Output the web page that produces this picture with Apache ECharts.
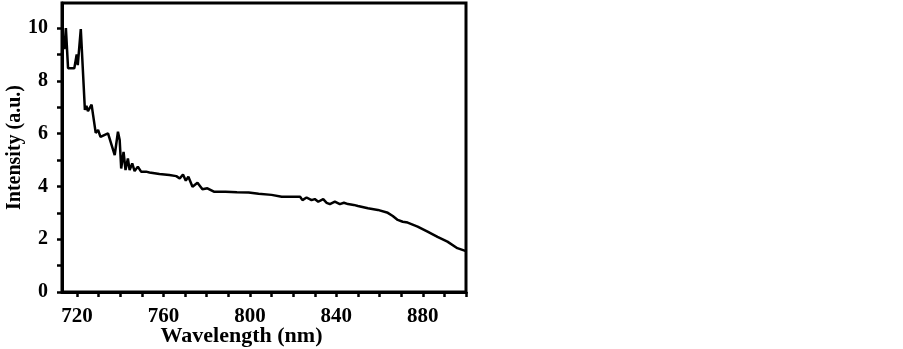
<!DOCTYPE html>
<html>
<head>
<meta charset="utf-8">
<script src="https://cdn.jsdelivr.net/npm/echarts@6/dist/echarts.min.js"></script>
<style>
    html, body { margin: 0; padding: 0; background: #fff; }
    #chart { width: 903px; height: 349px; }
</style>
</head>
<body>
<div id="chart"></div>
<script>
// spectrum
const wavelength = [
    713, 713.6, 714.1, 714.8, 715.8, 718.7, 719.8, 720.3, 721.7, 723.6,
    724.3, 725.0, 726.7, 727.4, 728.6, 729.7, 730.8, 734.3, 737.4, 738.9,
    739.7, 740.4, 741.5, 742.4, 743.5, 744.3, 745.5, 746.6, 748.1, 749.6,
    751.9, 753.5, 758.1, 762.7, 765.9, 767.5, 769.0, 770.3, 771.5, 773.4,
    775.7, 778.0, 780.3, 783.3, 788.7, 794.0, 799.4, 804.0, 810.0, 814.7,
    815.5, 817.8, 823.2, 824.3, 826.2, 828.5, 830.0, 831.6, 833.9, 835.5,
    837.0, 839.3, 841.6, 843.5, 845.4, 848.0, 850.0, 854.6, 859.2, 863.8,
    866.1, 868.4, 870.7, 873.0, 877.6, 882.2, 886.8, 891.4, 896.0, 900
];
const intensity = [
    9.0, 9.6, 9.2, 10.0, 8.48, 8.48, 9.0, 8.6, 9.96, 6.9,
    7.05, 6.85, 7.1, 6.7, 6.03, 6.14, 5.88, 6.01, 5.19, 6.07,
    5.76, 4.68, 5.31, 4.62, 5.06, 4.62, 4.87, 4.58, 4.75, 4.56,
    4.56, 4.53, 4.47, 4.43, 4.39, 4.30, 4.45, 4.22, 4.37, 3.99,
    4.14, 3.89, 3.93, 3.80, 3.80, 3.78, 3.77, 3.72, 3.68, 3.61,
    3.55, 3.61, 3.61, 3.48, 3.58, 3.48, 3.52, 3.42, 3.52, 3.38,
    3.33, 3.42, 3.33, 3.38, 3.33, 3.30, 3.26, 3.17, 3.11, 3.00,
    2.88, 2.73, 2.66, 2.63, 2.48, 2.29, 2.09, 1.91, 1.66, 1.55
];
const xLabels = [720, 760, 800, 840, 880];
const xTicks = [720, 730, 740, 750, 760, 770, 780, 790, 800, 810, 820, 830, 840, 850, 860, 870, 880, 890, 900];
const yLabels = [0, 2, 4, 6, 8, 10];
const yTicks = [0, 1, 2, 3, 4, 5, 6, 7, 8, 9, 10];

const fontFamily = '"Liberation Serif", "DejaVu Serif", serif';
const chart = echarts.init(document.getElementById('chart'));

const options = {
    animation: false,
    grid: {
        left: 62,
        right: 437,
        top: 3,
        bottom: 57,
        outerBoundsMode: 'none',
        containLabel: false,
        show: true,
        borderColor: '#000',
        borderWidth: 3
    },
    xAxis: {
        type: 'value',
        min: 713,
        max: 900,
        name: 'Wavelength (nm)',
        nameLocation: 'middle',
        nameMoveOverlap: false,
        nameGap: 33,
        nameTextStyle: {
            color: '#000',
            fontFamily: fontFamily,
            fontWeight: 'bold',
            fontSize: 22,
            padding: [0, 45, 0, 0]
        },
        axisLine: { show: true, lineStyle: { color: '#000', width: 3 } },
        axisTick: { show: true, length: 5, customValues: xTicks, lineStyle: { color: '#000', width: 2.5 } },
        axisLabel: {
            customValues: xLabels,
            margin: 14,
            color: '#000',
            fontFamily: fontFamily,
            fontWeight: 'bold',
            fontSize: 21
        },
        splitLine: { show: false }
    },
    yAxis: {
        type: 'value',
        min: 0,
        max: 10.95,
        name: 'Intensity (a.u.)',
        nameLocation: 'middle',
        nameMoveOverlap: false,
        nameGap: 37,
        nameTextStyle: {
            color: '#000',
            fontFamily: fontFamily,
            fontWeight: 'bold',
            fontSize: 20
        },
        axisLine: { show: true, lineStyle: { color: '#000', width: 3 } },
        axisTick: { show: true, length: 5, customValues: yTicks, lineStyle: { color: '#000', width: 2.5 } },
        axisLabel: {
            customValues: yLabels,
            margin: 14,
            color: '#000',
            fontFamily: fontFamily,
            fontWeight: 'bold',
            fontSize: 20
        },
        splitLine: { show: false }
    },
    series: [{
        type: 'line',
        data: wavelength.map(function (w, i) { return [w, intensity[i]]; }),
        showSymbol: false,
        lineStyle: { color: '#000', width: 2.5 },
        clip: true
    }]
};
chart.setOption(options);
</script>
</body>
</html>
